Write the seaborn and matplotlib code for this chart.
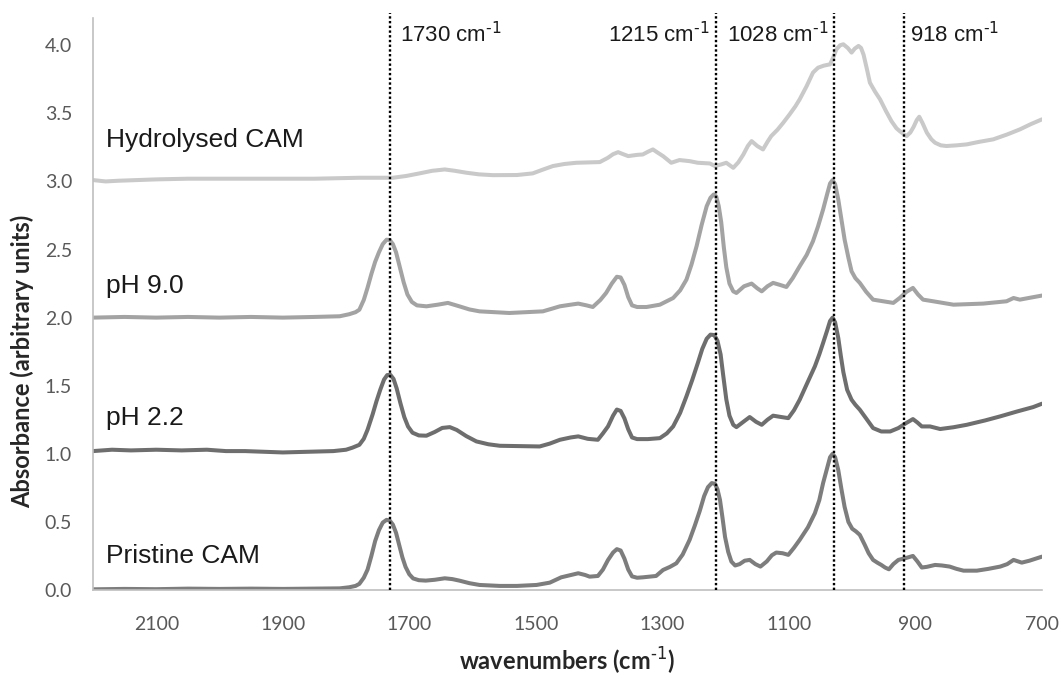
import numpy as np
import pandas as pd
import matplotlib
matplotlib.use("Agg")
import matplotlib.pyplot as plt
import seaborn as sns

# FTIR spectra, each trace offset by one absorbance unit
pristine_wn = [2200, 2150, 2100, 2050, 2000, 1950, 1900, 1850, 1810, 1795, 1785, 1779,
               1772, 1766, 1760, 1754, 1748, 1742, 1736, 1731, 1726, 1721, 1716, 1711,
               1706, 1700, 1694, 1685, 1674, 1660, 1644, 1632, 1621, 1605, 1589, 1557,
               1530, 1499, 1478, 1460, 1445, 1433, 1422, 1415, 1402, 1394, 1386, 1378,
               1372, 1366, 1360, 1354, 1348, 1340, 1331, 1310, 1299, 1288, 1278, 1268,
               1257, 1249, 1241, 1234, 1228, 1222, 1217, 1213, 1209, 1205, 1201, 1196,
               1191, 1185, 1178, 1170, 1162, 1153, 1145, 1135, 1127, 1120, 1110, 1101,
               1092, 1083, 1070, 1059, 1052, 1046, 1040, 1035, 1031, 1027, 1022, 1017,
               1012, 1006, 1000, 994, 988, 980, 974, 967, 960, 954, 948, 942,
               935, 927, 915, 904, 897, 890, 882, 869, 858, 846, 835, 824,
               803, 785, 766, 755, 745, 738, 732, 720, 700]
pristine_abs = [0.005, 0.008, 0.006, 0.010, 0.008, 0.010, 0.008, 0.010, 0.012, 0.020, 0.030, 0.045,
                0.090, 0.150, 0.250, 0.360, 0.440, 0.495, 0.515, 0.510, 0.480, 0.420, 0.330, 0.240,
                0.170, 0.115, 0.085, 0.072, 0.069, 0.075, 0.086, 0.080, 0.069, 0.050, 0.037, 0.030,
                0.030, 0.037, 0.054, 0.093, 0.110, 0.123, 0.110, 0.098, 0.103, 0.150, 0.220, 0.275,
                0.300, 0.290, 0.230, 0.150, 0.100, 0.090, 0.093, 0.103, 0.147, 0.170, 0.196, 0.260,
                0.368, 0.470, 0.580, 0.690, 0.755, 0.785, 0.780, 0.740, 0.662, 0.530, 0.390, 0.280,
                0.209, 0.180, 0.190, 0.215, 0.221, 0.190, 0.172, 0.210, 0.255, 0.275, 0.270, 0.258,
                0.310, 0.368, 0.460, 0.564, 0.660, 0.785, 0.890, 0.975, 1.000, 0.975, 0.880, 0.740,
                0.610, 0.500, 0.450, 0.430, 0.405, 0.330, 0.270, 0.221, 0.200, 0.184, 0.165, 0.152,
                0.190, 0.221, 0.235, 0.250, 0.210, 0.165, 0.170, 0.184, 0.180, 0.172, 0.155, 0.142,
                0.142, 0.155, 0.172, 0.190, 0.221, 0.210, 0.201, 0.215, 0.245]

ph22_wn = [2200, 2170, 2140, 2100, 2060, 2020, 1990, 1960, 1930, 1900, 1860, 1820,
           1800, 1790, 1779, 1772, 1766, 1758, 1752, 1746, 1740, 1735, 1730, 1725,
           1720, 1714, 1708, 1702, 1695, 1685, 1673, 1660, 1648, 1636, 1625, 1610,
           1594, 1575, 1557, 1494, 1478, 1462, 1445, 1433, 1418, 1402, 1394, 1386,
           1378, 1372, 1366, 1360, 1354, 1348, 1340, 1323, 1304, 1293, 1283, 1272,
           1262, 1253, 1244, 1237, 1230, 1224, 1218, 1213, 1208, 1204, 1199, 1194,
           1188, 1183, 1172, 1162, 1152, 1143, 1134, 1125, 1112, 1101, 1092, 1083,
           1071, 1059, 1052, 1046, 1040, 1035, 1031, 1027, 1022, 1018, 1014, 1008,
           1001, 995, 988, 978, 967, 954, 940, 927, 915, 904, 897, 890,
           877, 861, 840, 819, 790, 766, 740, 714, 700]
ph22_abs = [1.020, 1.030, 1.025, 1.030, 1.025, 1.030, 1.020, 1.020, 1.015, 1.010, 1.015, 1.020,
            1.030, 1.045, 1.066, 1.110, 1.177, 1.290, 1.385, 1.470, 1.545, 1.578, 1.580, 1.550,
            1.480, 1.370, 1.270, 1.200, 1.155, 1.135, 1.133, 1.160, 1.190, 1.196, 1.175, 1.130,
            1.091, 1.070, 1.059, 1.054, 1.075, 1.103, 1.120, 1.128, 1.110, 1.103, 1.150, 1.201,
            1.280, 1.325, 1.315, 1.260, 1.180, 1.120, 1.108, 1.108, 1.115, 1.150, 1.201, 1.300,
            1.422, 1.540, 1.667, 1.770, 1.845, 1.875, 1.872, 1.830, 1.730, 1.580, 1.400, 1.280,
            1.213, 1.196, 1.235, 1.270, 1.235, 1.213, 1.250, 1.280, 1.270, 1.262, 1.320, 1.397,
            1.520, 1.642, 1.730, 1.814, 1.900, 1.975, 2.000, 1.965, 1.850, 1.720, 1.600, 1.470,
            1.397, 1.360, 1.324, 1.260, 1.189, 1.164, 1.164, 1.189, 1.225, 1.255, 1.230, 1.201,
            1.201, 1.182, 1.195, 1.213, 1.245, 1.275, 1.310, 1.343, 1.368]

ph90_wn = [2200, 2150, 2100, 2050, 2000, 1950, 1900, 1850, 1810, 1795, 1785, 1779,
           1772, 1766, 1760, 1754, 1748, 1742, 1736, 1731, 1726, 1721, 1715, 1709,
           1703, 1696, 1688, 1673, 1655, 1639, 1621, 1605, 1589, 1542, 1489, 1475,
           1462, 1445, 1433, 1420, 1410, 1398, 1389, 1380, 1372, 1366, 1360, 1354,
           1348, 1340, 1325, 1304, 1283, 1272, 1262, 1254, 1246, 1238, 1230, 1224,
           1219, 1215, 1211, 1207, 1203, 1199, 1194, 1188, 1183, 1171, 1159, 1150,
           1143, 1134, 1125, 1114, 1104, 1094, 1083, 1072, 1062, 1054, 1046, 1040,
           1035, 1031, 1027, 1022, 1017, 1012, 1006, 1001, 995, 988, 978, 967,
           951, 935, 925, 914, 904, 896, 888, 872, 840, 793, 756, 745,
           735, 720, 700]
ph90_abs = [2.000, 2.005, 2.000, 2.005, 2.000, 2.005, 2.000, 2.005, 2.010, 2.025, 2.040, 2.058,
            2.130, 2.220, 2.320, 2.410, 2.480, 2.540, 2.572, 2.570, 2.540, 2.480, 2.370, 2.260,
            2.170, 2.115, 2.090, 2.083, 2.095, 2.108, 2.083, 2.060, 2.046, 2.034, 2.046, 2.065,
            2.083, 2.095, 2.103, 2.090, 2.078, 2.130, 2.181, 2.250, 2.300, 2.295, 2.240, 2.150,
            2.090, 2.078, 2.078, 2.095, 2.144, 2.200, 2.279, 2.390, 2.524, 2.680, 2.818, 2.880,
            2.904, 2.890, 2.820, 2.700, 2.520, 2.370, 2.250, 2.193, 2.181, 2.230, 2.250, 2.215,
            2.193, 2.230, 2.255, 2.240, 2.225, 2.290, 2.377, 2.460, 2.561, 2.670, 2.794, 2.900,
            2.985, 3.010, 2.980, 2.867, 2.720, 2.573, 2.440, 2.340, 2.290, 2.255, 2.190, 2.132,
            2.120, 2.108, 2.144, 2.190, 2.218, 2.170, 2.132, 2.120, 2.095, 2.103, 2.120, 2.144,
            2.132, 2.145, 2.162]

hydro_wn = [2200, 2180, 2160, 2100, 2050, 2000, 1950, 1900, 1850, 1779, 1726, 1705,
            1684, 1664, 1644, 1628, 1610, 1590, 1568, 1530, 1505, 1490, 1473, 1455,
            1436, 1399, 1386, 1378, 1370, 1362, 1354, 1340, 1331, 1322, 1315, 1307,
            1299, 1286, 1273, 1257, 1244, 1225, 1217, 1207, 1199, 1188, 1180, 1172,
            1165, 1159, 1150, 1141, 1134, 1128, 1118, 1109, 1099, 1090, 1083, 1072,
            1062, 1054, 1045, 1035, 1030, 1025, 1019, 1014, 1007, 1001, 996, 990,
            986, 982, 977, 972, 964, 956, 947, 938, 930, 925, 918, 914,
            908, 903, 898, 894, 889, 882, 875, 869, 860, 851, 835, 819,
            800, 777, 755, 735, 718, 700]
hydro_abs = [3.010, 3.000, 3.005, 3.015, 3.020, 3.020, 3.020, 3.020, 3.020, 3.027, 3.027, 3.040,
             3.059, 3.078, 3.088, 3.078, 3.064, 3.052, 3.046, 3.047, 3.059, 3.085, 3.113, 3.128,
             3.137, 3.142, 3.174, 3.200, 3.215, 3.200, 3.186, 3.195, 3.198, 3.220, 3.235, 3.210,
             3.186, 3.137, 3.157, 3.149, 3.137, 3.132, 3.113, 3.125, 3.137, 3.100, 3.140, 3.198,
             3.260, 3.296, 3.260, 3.235, 3.290, 3.333, 3.380, 3.431, 3.492, 3.550, 3.603, 3.700,
             3.799, 3.835, 3.850, 3.860, 3.910, 3.970, 4.000, 4.007, 3.980, 3.946, 3.975, 3.995,
             3.980, 3.930, 3.830, 3.725, 3.660, 3.603, 3.520, 3.443, 3.390, 3.370, 3.345, 3.333,
             3.360, 3.400, 3.450, 3.475, 3.430, 3.358, 3.310, 3.284, 3.265, 3.260, 3.265, 3.272,
             3.290, 3.309, 3.345, 3.382, 3.420, 3.456]

sample_names = ["Hydrolysed CAM", "pH 9.0", "pH 2.2", "Pristine CAM"]
sample_colors = ["#c9c9c9", "#a3a3a3", "#6e6e6e", "#7d7d7d"]
label_y = [3.25, 2.184, 1.213, 0.199]

peak_positions = [1730, 1215, 1028, 918]
peak_label_x = [1715, 1226, 1038, 909]
peak_label_ha = ["left", "right", "right", "left"]

x_ticks = [2100, 1900, 1700, 1500, 1300, 1100, 900, 700]
y_ticks = [0.0, 0.5, 1.0, 1.5, 2.0, 2.5, 3.0, 3.5, 4.0]

sns.set_theme(style="white")
plt.rcParams["font.family"] = ["Lato", "DejaVu Sans"]

frames = []
for name, wn, ab in [("Hydrolysed CAM", hydro_wn, hydro_abs),
                     ("pH 9.0", ph90_wn, ph90_abs),
                     ("pH 2.2", ph22_wn, ph22_abs),
                     ("Pristine CAM", pristine_wn, pristine_abs)]:
    frames.append(pd.DataFrame({"wavenumber": wn, "absorbance": ab, "sample": name}))
df = pd.concat(frames, ignore_index=True)

fig = plt.figure(figsize=(10.61, 6.75), dpi=100)
ax = fig.add_axes([93 / 1061, 1 - 590 / 675, (1042 - 93) / 1061, (590 - 18) / 675])

sns.lineplot(data=df, x="wavenumber", y="absorbance", hue="sample",
             hue_order=sample_names, palette=sample_colors,
             estimator=None, sort=True, linewidth=2.9, legend=False, ax=ax,
             solid_joinstyle="round", solid_capstyle="round")

ax.set_xlim(2200, 700)
ax.set_ylim(0, 4.2)
ax.set_xticks(x_ticks)
ax.set_xticklabels([str(t) for t in x_ticks])
ax.set_yticks(y_ticks)
ax.set_yticklabels([f"{t:.1f}" for t in y_ticks])

for side in ["top", "right"]:
    ax.spines[side].set_visible(False)
for side in ["left", "bottom"]:
    ax.spines[side].set_color("#bfbfbf")
    ax.spines[side].set_linewidth(1.2)

ax.tick_params(axis="both", direction="out", length=6, width=1.0, color="#bfbfbf",
               labelsize=14, labelcolor="#595959")
ax.tick_params(axis="x", pad=13)
ax.tick_params(axis="y", pad=9)

# dotted markers at the band positions
for wn in peak_positions:
    ax.vlines(wn, 0, 4.24, colors="black", linestyles=(0, (1, 1)),
              linewidth=1.7, clip_on=False, zorder=3)

for x, ha, wn in zip(peak_label_x, peak_label_ha, peak_positions):
    ax.text(x, 4.02, f"{wn} cm$^{{\\text{{-1}}}}$", ha=ha, va="baseline",
            fontsize=16, color="#1a1a1a", family=["Liberation Sans", "DejaVu Sans"])

for name, y in zip(sample_names, label_y):
    ax.text(2179, y, name, ha="left", va="baseline", fontsize=19,
            color="#1a1a1a", family=["Liberation Sans", "DejaVu Sans"])

ax.set_xlabel("wavenumbers (cm$^{\\text{-1}}$)", fontsize=17,
              fontweight="bold", color="#262626")
ax.set_ylabel("Absorbance (arbitrary units)", fontsize=17,
              fontweight="bold", color="#262626")
ax.xaxis.set_label_coords(0.5, -0.098)
ax.xaxis.label.set_va("top")
ax.yaxis.set_label_coords(-0.062, 0.40)

fig.savefig("out.png", dpi=100, facecolor="white")
